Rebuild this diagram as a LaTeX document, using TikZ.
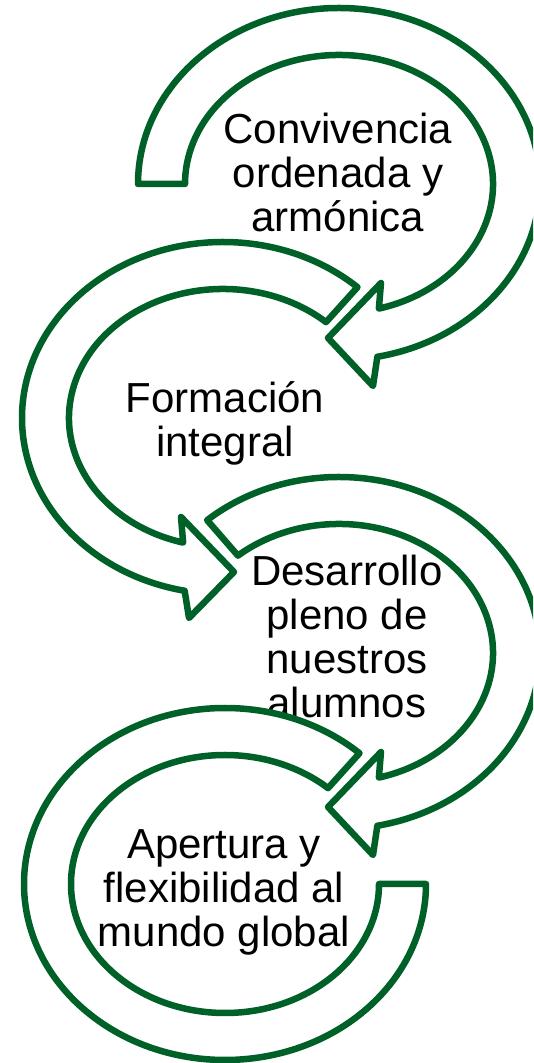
\documentclass[tikz,border=0pt]{standalone}
\usepackage{fontspec}
\setmainfont{Liberation Sans}
\definecolor{verde}{RGB}{0,97,40}
\tikzset{
  band/.style={draw=verde, fill=white, line width=6.5pt, line join=round},
  lbl/.style={align=center, font=\fontsize{42}{44}\selectfont, anchor=base}
}
\begin{document}
\begin{tikzpicture}[x=1pt,y=1pt]
  \useasboundingbox (0,0) rectangle (533,1063);
  \clip (0,0) rectangle (533,1063);
  \coordinate (c1) at (339,879);
  \coordinate (c2) at (223,645);
  \coordinate (c3) at (339,410);
  \coordinate (c4) at (225,179);
  % first arrow
  \begin{scope}[shift={(c1)}]
    \draw[band] (180:201 and 176) arc[start angle=180, end angle=-79, x radius=201, y radius=176]
      -- (34,-202) -- (-11,-154) -- (42,-99) -- (-75:154 and 129)
      arc[start angle=-75, end angle=180, x radius=154, y radius=129] -- cycle;
  \end{scope}
  \node[lbl] (conv) at (338,831) {Convivencia\\ordenada y\\armónica};
  % second arrow
  \begin{scope}[shift={(c2)}]
    \draw[band] (48:201 and 176) arc[start angle=48, end angle=259, x radius=201, y radius=176]
      -- (-34,-200) -- (11,-154) -- (-42,-99) -- (255:154 and 129)
      arc[start angle=255, end angle=48, x radius=154, y radius=129] -- cycle;
  \end{scope}
  \node[lbl] (form) at (225,606) {Formación\\integral};
  % third arrow
  \begin{scope}[shift={(c3)}]
    \draw[band] (131:201 and 176) arc[start angle=131, end angle=-79, x radius=201, y radius=176]
      -- (34,-202) -- (-11,-154) -- (42,-99) -- (-75:154 and 129)
      arc[start angle=-75, end angle=131, x radius=154, y radius=129] -- cycle;
  \end{scope}
  \node[lbl] (desa) at (347,345) {Desarrollo\\pleno de\\nuestros\\alumnos};
  % fourth arc, no head
  \begin{scope}[shift={(c4)}]
    \draw[band] (48:201 and 176) arc[start angle=48, end angle=360, x radius=201, y radius=176]
      -- (360:154 and 129)
      arc[start angle=360, end angle=48, x radius=154, y radius=129] -- cycle;
  \end{scope}
  \node[lbl] (aper) at (224,116) {Apertura y\\flexibilidad al\\mundo global};
\end{tikzpicture}
\end{document}
